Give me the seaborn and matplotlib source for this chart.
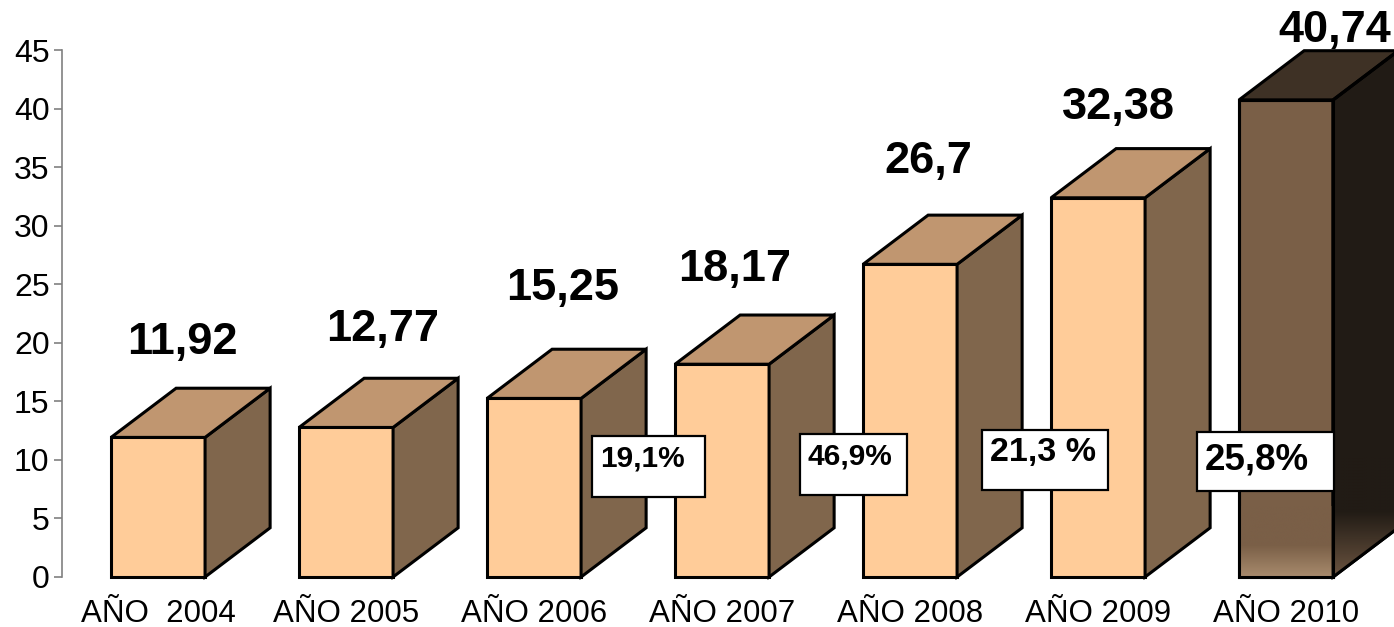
import numpy as np
import pandas as pd
import matplotlib
matplotlib.use("Agg")
import matplotlib.pyplot as plt
from matplotlib.patches import Polygon, Rectangle
from matplotlib.colors import LinearSegmentedColormap
import seaborn as sns

# ---- data ----
years = ["AÑO  2004", "AÑO 2005", "AÑO 2006", "AÑO 2007", "AÑO 2008", "AÑO 2009", "AÑO 2010"]
values = [11.92, 12.77, 15.25, 18.17, 26.7, 32.38, 40.74]
value_labels = ["11,92", "12,77", "15,25", "18,17", "26,7", "32,38", "40,74"]
pct_labels = ["19,1%", "46,9%", "21,3 %", "25,8%"]

# ---- layout / style ----
label_dx_px = [24, 37, 29, 13, 18, 20, 49]
label_dy = [3.9, 4.2, 5.2, 3.9, 4.6, 3.5, 1.7]
pct_boxes = [  # x0, x1, ybot, ytop
    (2.309, 2.910, 6.83, 12.04),
    (3.415, 3.984, 7.00, 12.21),
    (4.383, 5.053, 7.43, 12.55),
    (5.527, 6.255, 7.34, 12.38),
]
pct_text_y = [10.16, 10.33, 10.67, 9.99]
pct_sizes = [21.5, 21.5, 24.5, 26.5]

front_c = "#FFCC99"
top_c = "#C09670"
side_c = "#80664C"
last_front = "#7A5F47"
last_top = "#3E3125"
last_side = "#211B15"
DX, DY = 0.346, 4.2
EW = 2.2

sns.set_theme(style="white")
plt.rcParams["font.family"] = ["Liberation Sans", "DejaVu Sans"]

fig = plt.figure(figsize=(13.94, 6.27), dpi=100)
ax = fig.add_axes([62 / 1394, 50 / 627, 1 - 62 / 1394, (577 - 50) / 627])

df = pd.DataFrame({"year": years, "value": values})
palette = [front_c] * 6 + [last_front]
sns.barplot(data=df, x="year", y="value", hue="year", palette=palette, legend=False,
            width=0.5, edgecolor="black", linewidth=EW, ax=ax, saturation=1)

for i, p in enumerate(ax.patches):
    x0 = p.get_x()
    w = p.get_width()
    h = p.get_height()
    x1 = x0 + w
    last = i == len(values) - 1
    tc = last_top if last else top_c
    sc = last_side if last else side_c
    side = Polygon([(x1, 0), (x1 + DX, DY), (x1 + DX, h + DY), (x1, h)], closed=True,
                   facecolor=sc, edgecolor="black", linewidth=EW, clip_on=False, zorder=3,
                   joinstyle="miter")
    top = Polygon([(x0, h), (x0 + DX, h + DY), (x1 + DX, h + DY), (x1, h)], closed=True,
                  facecolor=tc, edgecolor="black", linewidth=EW, clip_on=False, zorder=3,
                  joinstyle="miter")
    ax.add_patch(side)
    ax.add_patch(top)
    p.set_zorder(3)
    p.set_clip_on(False)
    if last:
        # gradient at the bottom of the last bar (light at the very bottom)
        g = np.linspace(0, 1, 200).reshape(-1, 1)  # row 0 (top) -> 0, bottom -> 1
        cm_f = LinearSegmentedColormap.from_list(
            "f", [(0, last_front), (0.55, last_front), (1, "#A88B6D")])
        im = ax.imshow(g, cmap=cm_f, vmin=0, vmax=1, extent=[x0, x1, 0, 6.0],
                       aspect="auto", origin="upper", zorder=3.5, interpolation="bilinear")
        fr = Polygon([(x0, 0), (x1, 0), (x1, h), (x0, h)], closed=True, transform=ax.transData)
        im.set_clip_path(fr)
        ax.add_patch(Polygon([(x0, 0), (x1, 0), (x1, h), (x0, h)], closed=True, fill=False,
                             edgecolor="black", linewidth=EW, zorder=3.6, clip_on=False))
        cm_s = LinearSegmentedColormap.from_list(
            "s", [(0, last_side), (0.45, last_side), (1, "#6B5440")])
        im2 = ax.imshow(g, cmap=cm_s, vmin=0, vmax=1, extent=[x1, x1 + DX, 0, DY + 6.0],
                        aspect="auto", origin="upper", zorder=3.5, interpolation="bilinear")
        sp = Polygon([(x1, 0), (x1 + DX, DY), (x1 + DX, h + DY), (x1, h)], closed=True,
                     transform=ax.transData)
        im2.set_clip_path(sp)
        ax.add_patch(Polygon([(x1, 0), (x1 + DX, DY), (x1 + DX, h + DY), (x1, h)], closed=True,
                             fill=False, edgecolor="black", linewidth=EW, zorder=3.6,
                             clip_on=False, joinstyle="miter"))
    cx = x0 + w / 2
    ax.annotate(value_labels[i], xy=(cx, h + DY + label_dy[i]),
                xytext=(label_dx_px[i] * 0.72, 0), textcoords="offset points",
                ha="center", va="center", fontsize=32.5, fontweight="bold",
                color="black", zorder=6, annotation_clip=False)

for (bx0, bx1, by0, by1), lab, ty, fs in zip(pct_boxes, pct_labels, pct_text_y, pct_sizes):
    ax.add_patch(Rectangle((bx0, by0), bx1 - bx0, by1 - by0, facecolor="white",
                           edgecolor="black", linewidth=1.6, zorder=5, clip_on=False))
    ax.text(bx0 + 0.04, ty, lab, ha="left", va="center", fontsize=fs,
            fontweight="bold", color="black", zorder=6)

ax.set_xlim(-0.511, 6.574)
ax.set_ylim(0, 45)
ax.set_yticks(np.arange(0, 46, 5))
ax.set_xlabel("")
ax.set_ylabel("")
for s in ["top", "right", "bottom"]:
    ax.spines[s].set_visible(False)
ax.spines["left"].set_color("#808080")
ax.spines["left"].set_linewidth(1.2)
ax.tick_params(axis="y", which="both", left=True, direction="out", length=6,
               width=1.2, color="#808080", labelsize=23, labelcolor="black", pad=3)
ax.tick_params(axis="x", bottom=False, labelsize=22.5, labelcolor="black", pad=10)
ax.set_facecolor("white")
fig.patch.set_facecolor("white")

fig.savefig("out.png", dpi=100)
